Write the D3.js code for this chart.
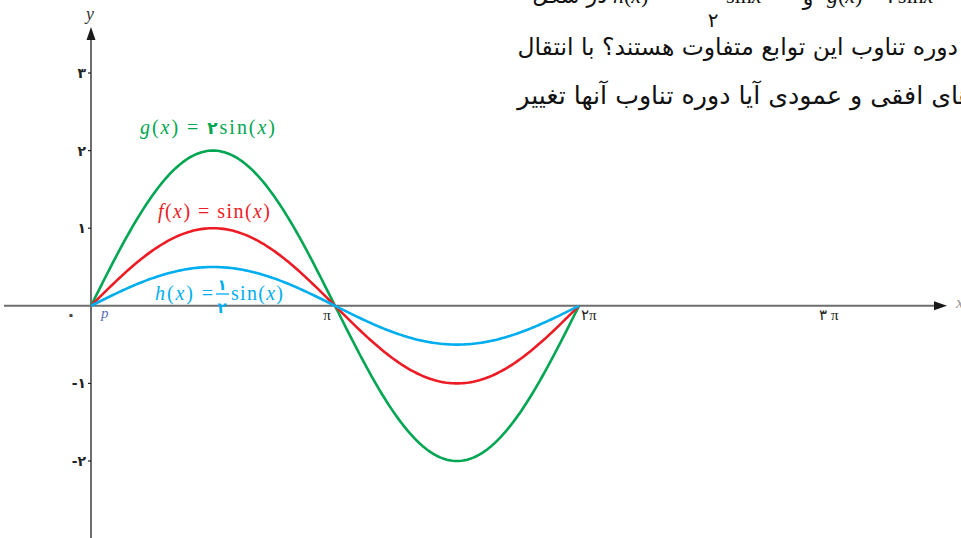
<!DOCTYPE html>
<html>
<head>
<meta charset="utf-8">
<script src="https://cdn.jsdelivr.net/npm/d3@7"></script>
<style>
  html, body { margin: 0; padding: 0; background: #fff; }
  svg { display: block; }
</style>
</head>
<body>
<svg id="chart" width="961" height="538"></svg>
<script>
// Amplitudes of the three sine curves a·sin(x), drawn over one period [0, 2π]
const curveNames = ["g", "f", "h"];
const amplitudes = [2, 1, 0.5];
const curveColors = ["#00a651", "#ed1c24", "#00aeef"];

// Axis tick values and their Persian labels
const yTicks = [3, 2, 1, -1, -2];
const yTickLabels = ["۳", "۲", "۱", "-۱", "-۲"];
const xTicks = [Math.PI, 2 * Math.PI, 3 * Math.PI];
const xTickLabels = ["π", "۲π", "۳ π"];

// Paragraph lines of the exercise text
const textLine2 = "دوره تناوب این توابع متفاوت هستند؟ با انتقال";
const textLine3 = "های افقی و عمودی آیا دوره تناوب آنها تغییر";

const svg = d3.select("#chart");
const x = d3.scaleLinear().domain([0, 3 * Math.PI]).range([91, 823]);
const y = d3.scaleLinear().domain([-2, 3]).range([461, 73]);

const axisColor = "#6e6e6e";
const mathFont = "'Liberation Serif', 'DejaVu Serif', serif";
const faFont = "'DejaVu Sans', sans-serif";

// ---- axes ----
svg.append("line")
  .attr("x1", 4).attr("x2", 938)
  .attr("y1", y(0)).attr("y2", y(0))
  .attr("stroke", axisColor).attr("stroke-width", 2);
svg.append("path")
  .attr("d", `M947,${y(0)} L934,${y(0) - 4.5} L934,${y(0) + 4.5} Z`)
  .attr("fill", "#1a1a1a");

svg.append("line")
  .attr("x1", x(0)).attr("x2", x(0))
  .attr("y1", 538).attr("y2", 36)
  .attr("stroke", axisColor).attr("stroke-width", 2);
svg.append("path")
  .attr("d", `M${x(0)},27 L${x(0) - 4.5},40 L${x(0) + 4.5},40 Z`)
  .attr("fill", "#1a1a1a");

svg.append("text")
  .attr("x", x(0) - 1).attr("y", 20)
  .attr("text-anchor", "middle")
  .attr("font-family", mathFont).attr("font-style", "italic")
  .attr("font-size", 18).attr("fill", "#333")
  .text("y");
svg.append("text")
  .attr("x", 956).attr("y", y(0) + 2)
  .attr("font-family", mathFont).attr("font-style", "italic")
  .attr("font-size", 17).attr("fill", "#999")
  .text("x");

// y ticks and labels
yTicks.forEach((v, i) => {
  svg.append("line")
    .attr("x1", x(0) - 3).attr("x2", x(0))
    .attr("y1", y(v)).attr("y2", y(v))
    .attr("stroke", "#222").attr("stroke-width", 1.2);
  svg.append("text")
    .attr("x", x(0) - 5).attr("y", y(v) + 5)
    .attr("text-anchor", "end")
    .attr("font-family", faFont).attr("font-weight", "bold")
    .attr("font-size", 14).attr("fill", "#222")
    .attr("direction", "ltr")
    .text(yTickLabels[i]);
});
// origin label
svg.append("text")
  .attr("x", 71).attr("y", 320)
  .attr("text-anchor", "middle")
  .attr("font-family", faFont).attr("font-weight", "bold")
  .attr("font-size", 17).attr("fill", "#444")
  .text("۰");

// x tick labels
xTicks.forEach((v, i) => {
  svg.append("text")
    .attr("x", x(v) + [-8, 2, 6][i]).attr("y", 320)
    .attr("text-anchor", i === 1 ? "start" : "middle")
    .attr("font-family", mathFont).attr("font-size", 15).attr("fill", "#222")
    .attr("direction", "ltr")
    .text(xTickLabels[i]);
});

// point label p at the origin
svg.append("text")
  .attr("x", 101).attr("y", 318)
  .attr("font-family", mathFont).attr("font-style", "italic")
  .attr("font-size", 15).attr("fill", "#5a6ec0")
  .text("p");

// ---- curves ----
const samples = d3.range(0, 2 * Math.PI + 1e-9, Math.PI / 120);
const line = d3.line().x(d => x(d[0])).y(d => y(d[1])).curve(d3.curveLinear);
amplitudes.forEach((a, i) => {
  svg.append("path")
    .datum(samples.map(t => [t, a * Math.sin(t)]))
    .attr("d", line)
    .attr("fill", "none")
    .attr("stroke", curveColors[i])
    .attr("stroke-width", 2.6)
    .attr("stroke-linejoin", "round");
});

// ---- curve labels ----
function mathLabel(xp, yp, color, width, parts) {
  const t = svg.append("text")
    .attr("x", xp).attr("y", yp)
    .attr("font-family", mathFont).attr("font-size", 20)
    .attr("fill", color).attr("direction", "ltr");
  parts.forEach(p => {
    const s = t.append("tspan").text(p.t);
    if (p.i) s.attr("font-style", "italic");
    if (p.f) s.attr("font-family", faFont).attr("font-weight", "bold").attr("font-size", 17);
  });
  t.attr("textLength", width).attr("lengthAdjust", "spacing");
  return t;
}
mathLabel(140, 134, curveColors[0], 135, [
  { t: "g", i: 1 }, { t: "(" }, { t: "x", i: 1 }, { t: ") = " },
  { t: "۲", f: 1 }, { t: "sin(" }, { t: "x", i: 1 }, { t: ")" }
]);
mathLabel(158, 218, curveColors[1], 112, [
  { t: "f", i: 1 }, { t: "(" }, { t: "x", i: 1 }, { t: ") = sin(" },
  { t: "x", i: 1 }, { t: ")" }
]);
mathLabel(155, 300, curveColors[2], 58, [
  { t: "h", i: 1 }, { t: "(" }, { t: "x", i: 1 }, { t: ") =" }
]);
// fraction one half
svg.append("text")
  .attr("x", 222).attr("y", 290).attr("text-anchor", "middle")
  .attr("font-family", faFont).attr("font-weight", "bold").attr("font-size", 15)
  .attr("fill", curveColors[2]).text("۱");
svg.append("line")
  .attr("x1", 216).attr("x2", 229).attr("y1", 294).attr("y2", 294)
  .attr("stroke", curveColors[2]).attr("stroke-width", 1.3);
svg.append("text")
  .attr("x", 222).attr("y", 313).attr("text-anchor", "middle")
  .attr("font-family", faFont).attr("font-weight", "bold").attr("font-size", 15)
  .attr("fill", curveColors[2]).text("۲");
mathLabel(231, 300, curveColors[2], 52, [
  { t: "sin(" }, { t: "x", i: 1 }, { t: ")" }
]);

// ---- paragraph text (clipped by the page edge) ----
function fitRtl(str, rightX, leftX, baseline) {
  const t = svg.append("text")
    .attr("x", rightX).attr("y", baseline)
    .attr("direction", "rtl").attr("text-anchor", "start")
    .attr("font-family", faFont).attr("font-size", 22).attr("fill", "#111")
    .text(str);
  const w = t.node().getComputedTextLength();
  t.attr("font-size", 22 * (rightX - leftX) / w);
  return t;
}
fitRtl(textLine2, 958, 517, 55);
fitRtl(textLine3, 972, 517, 104);

// first line, mostly above the page edge
const l1 = 3;
svg.append("text").attr("x", 607).attr("y", l1)
  .attr("direction", "rtl").attr("text-anchor", "start")
  .attr("font-family", faFont).attr("font-size", 22).attr("fill", "#111")
  .text("در شکل");
svg.append("text").attr("x", 613).attr("y", l1)
  .attr("font-family", mathFont).attr("font-size", 22).attr("fill", "#111")
  .html("<tspan font-style='italic'>h</tspan>(<tspan font-style='italic'>x</tspan>) =");
svg.append("text").attr("x", 713).attr("y", 27).attr("text-anchor", "middle")
  .attr("font-family", faFont).attr("font-size", 20).attr("fill", "#111")
  .text("۲");
svg.append("text").attr("x", 726).attr("y", l1)
  .attr("font-family", mathFont).attr("font-size", 22).attr("fill", "#111")
  .html("sin<tspan font-style='italic'>x</tspan>");
svg.append("text").attr("x", 808).attr("y", l1 + 2).attr("text-anchor", "middle")
  .attr("font-family", faFont).attr("font-size", 22).attr("fill", "#111")
  .text("و");
svg.append("text").attr("x", 827).attr("y", l1)
  .attr("font-family", mathFont).attr("font-size", 22).attr("fill", "#111")
  .html("<tspan font-style='italic'>g</tspan>(<tspan font-style='italic'>x</tspan>) = ۲sin<tspan font-style='italic'>x</tspan>");
</script>
</body>
</html>
